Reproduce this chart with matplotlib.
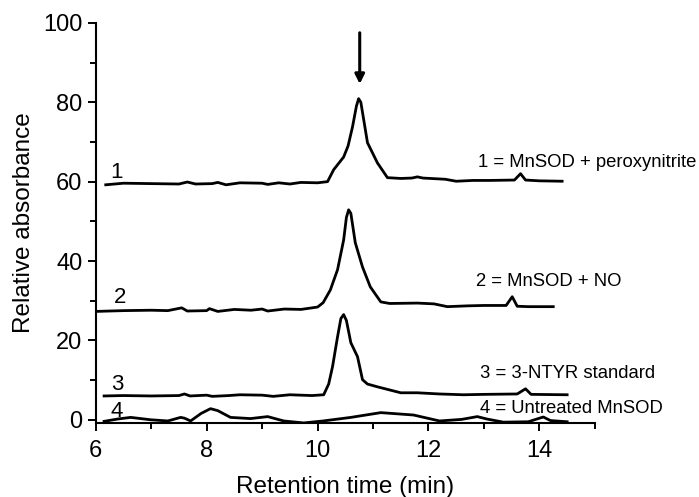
import matplotlib
matplotlib.use("Agg")
import matplotlib.pyplot as plt
from matplotlib.ticker import MultipleLocator

plt.rcParams['font.family'] = ['Liberation Sans', 'DejaVu Sans']

# trace 1: MnSOD + peroxynitrite
t1 = [6.18, 6.5, 7.0, 7.5, 7.65, 7.8, 8.1, 8.2, 8.35, 8.6, 9.0, 9.1, 9.3, 9.5, 9.7, 10.0,
      10.18, 10.29, 10.47, 10.55, 10.63, 10.7, 10.74, 10.78, 10.9, 11.08, 11.26, 11.5, 11.7,
      11.8, 11.9, 12.3, 12.5, 12.8, 13.1, 13.55, 13.66, 13.75, 14.0, 14.41]
a1 = [59.2, 59.6, 59.5, 59.4, 59.9, 59.4, 59.5, 59.8, 59.2, 59.7, 59.6, 59.3, 59.7, 59.4, 59.8, 59.7,
      60.0, 63.0, 66.2, 69.0, 73.8, 79.0, 80.9, 80.0, 69.8, 64.7, 61.0, 60.8, 60.9,
      61.2, 60.9, 60.6, 60.1, 60.3, 60.3, 60.4, 62.0, 60.4, 60.2, 60.1]

# trace 2: MnSOD + NO
t2 = [6.0, 6.5, 7.0, 7.3, 7.55, 7.65, 8.0, 8.05, 8.2, 8.5, 8.8, 9.0, 9.1, 9.4, 9.7, 10.0,
      10.1, 10.23, 10.36, 10.47, 10.52, 10.56, 10.6, 10.68, 10.81, 10.95, 11.14, 11.3, 11.8,
      12.1, 12.34, 12.7, 13.0, 13.4, 13.51, 13.6, 13.8, 14.25]
a2 = [27.3, 27.5, 27.6, 27.5, 28.2, 27.4, 27.5, 28.0, 27.3, 27.8, 27.6, 27.9, 27.4, 27.9, 27.8, 28.4,
      29.5, 32.7, 37.8, 45.3, 51.0, 52.9, 52.0, 44.6, 38.5, 33.5, 29.7, 29.3, 29.4,
      29.2, 28.5, 28.7, 28.8, 28.8, 31.0, 28.6, 28.5, 28.5]

# trace 3: 3-NTYR standard
t3 = [6.15, 6.5, 7.0, 7.5, 7.6, 7.7, 8.0, 8.1, 8.4, 8.6, 9.0, 9.2, 9.5, 9.9, 10.11, 10.2,
      10.27, 10.36, 10.42, 10.47, 10.52, 10.6, 10.72, 10.81, 10.9, 11.08, 11.5, 11.8, 12.2,
      12.63, 13.0, 13.6, 13.75, 13.85, 14.5]
a3 = [6.0, 6.1, 6.0, 6.1, 6.5, 6.0, 6.2, 5.9, 6.1, 6.3, 6.2, 5.9, 6.3, 6.1, 6.3, 9.0,
      13.4, 20.9, 25.5, 26.5, 25.0, 19.4, 15.9, 10.1, 9.0, 8.3, 6.8, 6.8, 6.5,
      6.3, 6.4, 6.5, 7.8, 6.4, 6.3]

# trace 4: untreated MnSOD
t4 = [6.15, 6.4, 6.63, 6.99, 7.3, 7.53, 7.6, 7.71, 7.9, 8.07, 8.2, 8.43, 8.79, 9.1, 9.39,
      9.75, 10.1, 10.6, 11.14, 11.73, 12.2, 12.6, 12.88, 13.05, 13.35, 13.8, 14.07, 14.2, 14.5]
a4 = [-0.4, 0.2, 0.6, 0.0, -0.3, 0.6, 0.4, -0.3, 1.6, 2.8, 2.3, 0.6, 0.3, 0.8, -0.3,
      -0.8, -0.3, 0.6, 1.8, 1.2, -0.3, 0.1, 0.8, 0.2, -0.6, -0.5, 0.7, -0.2, -0.5]

trace_labels = ['1', '2', '3', '4']
legend_texts = ['1 = MnSOD + peroxynitrite', '2 = MnSOD + NO',
                '3 = 3-NTYR standard', '4 = Untreated MnSOD']

fig = plt.figure(figsize=(6.99, 4.97), dpi=100)
ax = fig.add_axes([0.137, 0.149, 0.714, 0.805])

for t, a in [(t1, a1), (t2, a2), (t3, a3), (t4, a4)]:
    ax.plot(t, a, color='black', lw=2.0)

# trace numbers on the left
num_pos = [(6.27, 62.2), (6.33, 30.7), (6.27, 8.8), (6.27, 2.2)]
for lab, (x, y) in zip(trace_labels, num_pos):
    ax.text(x, y, lab, fontsize=16, ha='left', va='center')

# key texts on the right
key_pos = [(12.9, 64.7), (12.86, 34.8), (12.92, 11.6), (12.92, 2.8)]
for txt, (x, y) in zip(legend_texts, key_pos):
    ax.text(x, y, txt, fontsize=13.3, ha='left', va='center')

# arrow marking the nitrotyrosine peak
ax.annotate('', xy=(10.76, 83.9), xytext=(10.76, 98.2),
            arrowprops=dict(arrowstyle='-|>', color='black', lw=2.2, mutation_scale=14))

ax.set_xlim(6, 15)
ax.set_ylim(-0.8, 100)
ax.xaxis.set_major_locator(MultipleLocator(2))
ax.xaxis.set_minor_locator(MultipleLocator(1))
ax.yaxis.set_major_locator(MultipleLocator(20))
ax.yaxis.set_minor_locator(MultipleLocator(10))
ax.set_xticks([6, 8, 10, 12, 14])
ax.tick_params(which='major', length=6, width=1.4, labelsize=17, direction='out')
ax.tick_params(axis='x', which='major', pad=6)
ax.tick_params(which='minor', length=4, width=1.4, direction='out')
for s in ['top', 'right']:
    ax.spines[s].set_visible(False)
for s in ['left', 'bottom']:
    ax.spines[s].set_linewidth(1.5)

ax.set_xlabel('Retention time (min)', fontsize=17.5, labelpad=10)
ax.set_ylabel('Relative absorbance', fontsize=17.5, labelpad=6)

fig.savefig('out.png', dpi=100)
